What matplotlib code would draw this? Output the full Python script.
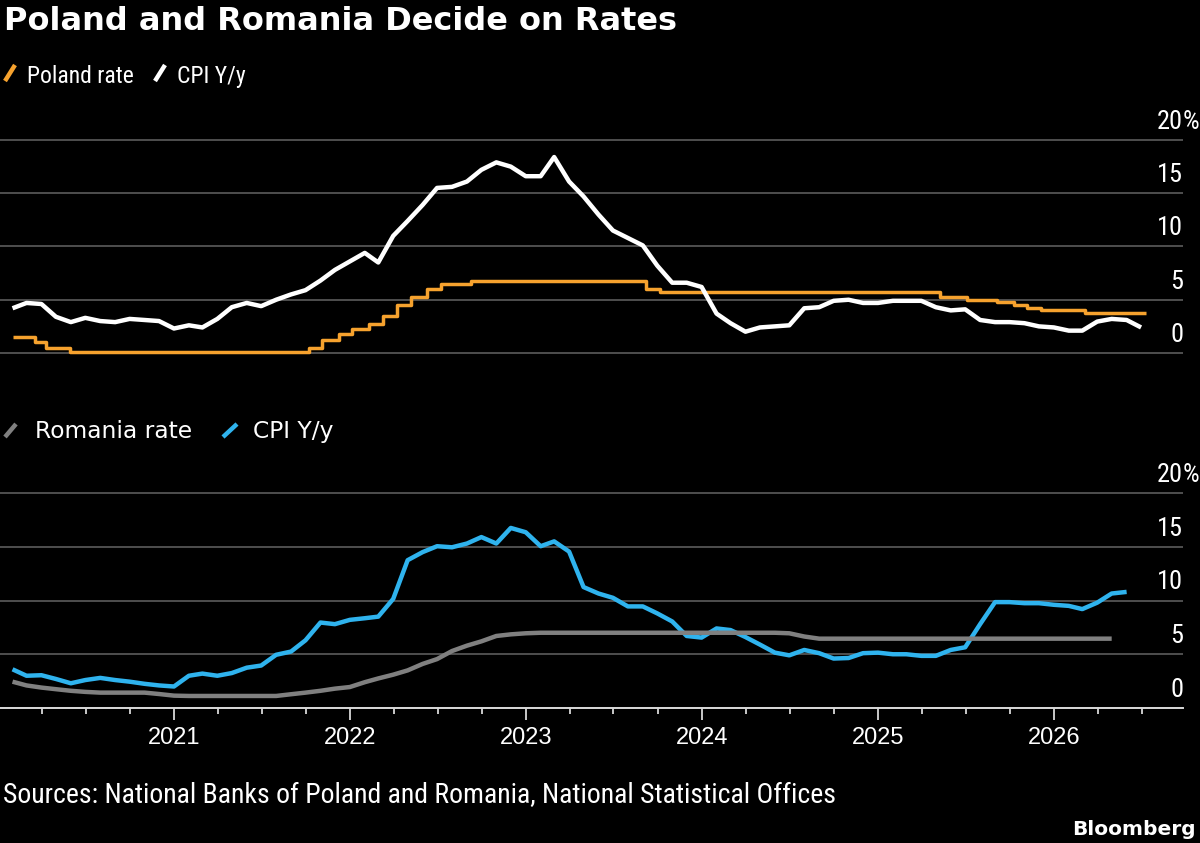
import numpy as np
import pandas as pd
import matplotlib
matplotlib.use("Agg")
import matplotlib.pyplot as plt
import matplotlib.dates as mdates
from matplotlib import font_manager
from matplotlib.lines import Line2D
from matplotlib.transforms import offset_copy, blended_transform_factory

# ---------------- data ----------------
# monthly CPI, month-end dates
pl_cpi_start = "2020-01-31"
pl_cpi = [4.2, 4.7, 4.6, 3.4, 2.9, 3.3, 3.0, 2.9, 3.2, 3.1, 3.0, 2.3,
          2.6, 2.4, 3.2, 4.3, 4.7, 4.4, 5.0, 5.5, 5.9, 6.8, 7.8, 8.6,
          9.4, 8.5, 11.0, 12.4, 13.9, 15.5, 15.6, 16.1, 17.2, 17.9, 17.5, 16.6,
          16.6, 18.4, 16.1, 14.7, 13.0, 11.5, 10.8, 10.1, 8.2, 6.6, 6.6, 6.2,
          3.7, 2.8, 2.0, 2.4, 2.5, 2.6, 4.2, 4.3, 4.9, 5.0, 4.7, 4.7,
          4.9, 4.9, 4.9, 4.3, 4.0, 4.1, 3.1, 2.9, 2.9, 2.8, 2.5, 2.4,
          2.1, 2.1, 2.95, 3.2, 3.1, 2.4]

# Poland policy rate, change dates (step series)
pl_rate_dates = ["2020-01-31", "2020-03-18", "2020-04-09", "2020-05-29",
                 "2021-10-07", "2021-11-04", "2021-12-09", "2022-01-05",
                 "2022-02-09", "2022-03-09", "2022-04-07", "2022-05-06",
                 "2022-06-09", "2022-07-08", "2022-09-08", "2023-09-07",
                 "2023-10-05", "2025-05-08", "2025-07-03", "2025-09-04",
                 "2025-10-09", "2025-11-06", "2025-12-04", "2026-03-05",
                 "2026-07-10"]
pl_rate = [1.5, 1.0, 0.5, 0.1, 0.5, 1.25, 1.75, 2.25, 2.75, 3.5, 4.5, 5.25,
           6.0, 6.5, 6.75, 6.0, 5.75, 5.25, 5.0, 4.75, 4.5, 4.25, 4.0, 3.75,
           3.75]

ro_start = "2020-01-31"
ro_cpi = [3.6, 3.0, 3.05, 2.7, 2.3, 2.6, 2.8, 2.6, 2.45, 2.25, 2.1, 2.0,
          3.0, 3.2, 3.0, 3.25, 3.75, 3.95, 4.95, 5.25, 6.3, 7.95, 7.8, 8.2,
          8.35, 8.5, 10.15, 13.75, 14.5, 15.05, 14.95, 15.3, 15.9, 15.3, 16.75, 16.35,
          15.05, 15.5, 14.55, 11.25, 10.65, 10.25, 9.45, 9.45, 8.8, 8.05, 6.7, 6.55,
          7.4, 7.25, 6.6, 5.9, 5.15, 4.9, 5.4, 5.1, 4.6, 4.65, 5.1, 5.15,
          5.0, 5.0, 4.85, 4.85, 5.4, 5.65, 7.8, 9.85, 9.85, 9.75, 9.75, 9.6,
          9.5, 9.2, 9.8, 10.65, 10.8]
ro_rate = [2.45, 2.1, 1.9, 1.75, 1.6, 1.5, 1.43, 1.43, 1.43, 1.43, 1.3, 1.15,
           1.12, 1.12, 1.12, 1.12, 1.12, 1.12, 1.12, 1.28, 1.43, 1.6, 1.8, 1.95,
           2.4, 2.75, 3.1, 3.5, 4.1, 4.55, 5.3, 5.8, 6.2, 6.7, 6.85, 6.95,
           7.0, 7.0, 7.0, 7.0, 7.0, 7.0, 7.0, 7.0, 7.0, 7.0, 7.0, 7.0,
           7.0, 7.0, 7.0, 7.0, 7.0, 6.95, 6.65, 6.45, 6.45, 6.45, 6.45, 6.45,
           6.45, 6.45, 6.45, 6.45, 6.45, 6.45, 6.45, 6.45, 6.45, 6.45, 6.45, 6.45,
           6.45, 6.45, 6.45, 6.45, 6.45]

y_ticks = [0, 5, 10, 15, 20]

ORANGE = "#f6a22e"
BLUE = "#2fb3ee"
GREY = "#808080"
GRID = "#4f4f4f"

# ---------------- fonts ----------------
installed = {f.name for f in font_manager.fontManager.ttflist}
narrow = next((f for f in ["Liberation Sans Narrow", "DejaVu Sans Condensed",
                           "Roboto Condensed"] if f in installed), None)
if narrow is None:
    narrow, nscale = "DejaVu Sans", 0.8
else:
    nscale = 1.0
mid = "Liberation Sans" if "Liberation Sans" in installed else "DejaVu Sans"

# ---------------- figure ----------------
W, H = 1200, 843
fig = plt.figure(figsize=(W / 100, H / 100), dpi=100, facecolor="black")


def fx(x):
    return x / W


def fy(y):
    return 1 - y / H


# top panel: 0 at 353px, 20 at 140px ; bottom: 0 at 708px, 20 at 493px
k1 = (353 - 140) / 20
k2 = (708 - 493) / 20
ax1 = fig.add_axes([0, fy(353 + 1.0 * k1), fx(1183), (213 + 1.6 * k1) / H])
ax2 = fig.add_axes([0, fy(708), fx(1183), (215 + 0.6 * k2) / H])
ax1.set_ylim(-1.0, 20.6)
ax2.set_ylim(0, 20.6)

xlim = (pd.Timestamp("2020-01-05"), pd.Timestamp("2026-09-25"))

pl_dates = pd.date_range(pl_cpi_start, periods=len(pl_cpi), freq="ME")
ro_dates = pd.date_range(ro_start, periods=len(ro_cpi), freq="ME")

ax1.plot(pd.to_datetime(pl_rate_dates), pl_rate, drawstyle="steps-post",
         color=ORANGE, lw=2.5, solid_capstyle="butt", zorder=3)
ax1.plot(pl_dates, pl_cpi, color="white", lw=3.2, solid_capstyle="butt",
         solid_joinstyle="round", zorder=4)

ax2.plot(ro_dates, ro_cpi, color=BLUE, lw=3.2, solid_capstyle="butt",
         solid_joinstyle="round", zorder=3)
ax2.plot(ro_dates[:-1], ro_rate[:-1], color=GREY, lw=3.2, solid_capstyle="butt",
         solid_joinstyle="round", zorder=4)

for ax in (ax1, ax2):
    ax.set_facecolor("black")
    ax.set_xlim(xlim)
    for s in ax.spines.values():
        s.set_visible(False)
    ax.set_yticks(y_ticks)
    ax.grid(axis="y", color=GRID, lw=1.4, zorder=1)
    ax.grid(axis="x", visible=False)
    ax.tick_params(axis="y", left=False, labelleft=False)
    trans = blended_transform_factory(ax.transAxes, ax.transData)
    trans = offset_copy(trans, fig=fig, y=8, units="points")
    for v in y_ticks:
        ax.text(1.0, v, str(v), transform=trans, ha="right", va="baseline",
                color="white", fontsize=19 * nscale, family=narrow)
    ax.text(1.0, 20, "%", transform=trans, ha="left", va="baseline",
            color="white", fontsize=19 * nscale, family=narrow)

ax1.tick_params(axis="x", bottom=False, labelbottom=False)

ax2.spines["bottom"].set_visible(True)
ax2.spines["bottom"].set_color("#d9d9d9")
ax2.spines["bottom"].set_linewidth(1.4)
ax2.spines["bottom"].set_zorder(5)
ax2.xaxis.set_major_locator(mdates.YearLocator())
ax2.xaxis.set_minor_locator(mdates.MonthLocator(bymonth=[1, 4, 7, 10]))
ax2.xaxis.set_major_formatter(mdates.DateFormatter("%Y"))
ax2.tick_params(axis="x", which="major", length=8.5, width=1.3, color="#d9d9d9",
                pad=5, labelsize=17, labelcolor="white")
ax2.tick_params(axis="x", which="minor", length=4.3, width=1.3, color="#d9d9d9")
for lab in ax2.get_xticklabels():
    lab.set_family(mid)

# ---------------- texts ----------------
fig.text(fx(4), fy(30), "Poland and Romania Decide on Rates", color="white",
         fontsize=23, fontweight="bold", family="DejaVu Sans", va="baseline")

def slash(x0, y0, x1, y1, color):
    fig.add_artist(Line2D([fx(x0), fx(x1)], [fy(y0), fy(y1)], color=color,
                          lw=3.2, solid_capstyle="butt",
                          transform=fig.transFigure))

slash(5, 81, 15, 65, ORANGE)
fig.text(fx(27), fy(83), "Poland rate", color="white", fontsize=17 * nscale,
         family=narrow, va="baseline")
slash(155, 81, 165, 65, "white")
fig.text(fx(177), fy(83), "CPI Y/y", color="white", fontsize=17 * nscale,
         family=narrow, va="baseline")

slash(5, 437, 16, 424, GREY)
fig.text(fx(35), fy(438), "Romania rate", color="white", fontsize=16.8,
         family="DejaVu Sans", va="baseline")
slash(223, 437, 237, 424, BLUE)
fig.text(fx(253), fy(438), "CPI Y/y", color="white", fontsize=16.8,
         family="DejaVu Sans", va="baseline")

fig.text(fx(3), fy(803),
         "Sources: National Banks of Poland and Romania, National Statistical Offices",
         color="white", fontsize=20 * nscale, family=narrow, va="baseline")
fig.text(fx(1196), fy(835), "Bloomberg", color="white", fontsize=14.5,
         fontweight="bold", family="DejaVu Sans", ha="right", va="baseline")

fig.savefig("out.png", dpi=100, facecolor="black")
